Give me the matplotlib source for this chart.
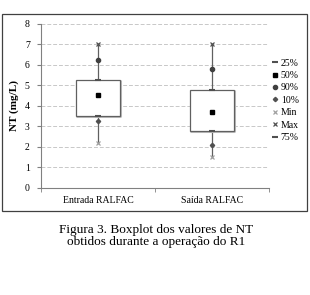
import matplotlib.pyplot as plt
from matplotlib.patches import Rectangle
from matplotlib.lines import Line2D

plt.rcParams['font.family'] = ['Liberation Serif', 'DejaVu Serif']

categories = ['Entrada RALFAC', 'Saída RALFAC']
p_min = [2.2, 1.5]
p10 = [3.25, 2.07]
p25 = [3.52, 2.8]
p50 = [4.55, 3.7]
p75 = [5.25, 4.8]
p90 = [6.25, 5.8]
p_max = [7.0, 7.0]
yticks = [0, 1, 2, 3, 4, 5, 6, 7, 8]

fig = plt.figure(figsize=(3.1, 2.95), dpi=100)

# outer chart frame
fig.patches.append(Rectangle((0.007, 0.285), 0.984, 0.668, transform=fig.transFigure,
                             fill=False, edgecolor='#404040', linewidth=0.9))

ax = fig.add_axes([0.132, 0.363, 0.736, 0.556])
pos = [0.5, 1.5]
w = 0.39

for y in yticks[1:]:
    ax.axhline(y, color='#c8c8c8', linestyle=(0, (4, 2)), linewidth=0.7, zorder=0)

for i, x in enumerate(pos):
    ax.plot([x, x], [p_min[i], p_max[i]], color='#606060', linewidth=0.9, zorder=1)
    # shadow on right/bottom
    ax.plot([x + w / 2, x + w / 2, x - w / 2], [p75[i], p25[i], p25[i]],
            color='#bdbdbd', linewidth=2.2, zorder=2, solid_capstyle='butt')
    ax.add_patch(Rectangle((x - w / 2, p25[i]), w, p75[i] - p25[i], facecolor='white',
                           edgecolor='#606060', linewidth=0.9, zorder=3))
    ax.plot(x, p25[i], marker='_', color='#505050', markersize=4.5, mew=1.5, zorder=4)
    ax.plot(x, p75[i], marker='_', color='#505050', markersize=4.5, mew=1.5, zorder=4)
    ax.plot(x, p50[i], marker='s', color='black', markersize=3, zorder=4)
    ax.plot(x, p90[i], marker='o', color='#404040', markersize=3, zorder=4)
    ax.plot(x, p10[i], marker='D', color='#505050', markersize=2.2, zorder=4)
    ax.plot(x, p_min[i], marker='x', color='#a0a0a0', markersize=2.6, mew=0.9, zorder=4)
    ax.plot(x, p_max[i], marker='x', color='#505050', markersize=2.6, mew=0.9, zorder=4)

ax.set_xlim(0, 2)
ax.set_ylim(0, 8)
ax.set_yticks(yticks)
ax.set_yticklabels([str(v) for v in yticks], fontsize=7)
ax.set_xticks(pos)
ax.set_xticklabels(categories, fontsize=7)
ax.set_xticks([0, 1, 2], minor=True)
ax.tick_params(axis='x', which='major', length=0, pad=6)
ax.tick_params(axis='x', which='minor', length=3, direction='out', color='#808080')
ax.tick_params(axis='y', length=3, direction='out', color='#808080', pad=5)
for s in ['top', 'right']:
    ax.spines[s].set_visible(False)
for s in ['left', 'bottom']:
    ax.spines[s].set_color('#808080')
    ax.spines[s].set_linewidth(0.8)
ax.set_ylabel('NT (mg/L)', fontsize=8, fontweight='bold', labelpad=4)

handles = [
    Line2D([], [], marker='_', color='#505050', linestyle='none', markersize=4, mew=1.5),
    Line2D([], [], marker='s', color='black', linestyle='none', markersize=3),
    Line2D([], [], marker='o', color='#404040', linestyle='none', markersize=3),
    Line2D([], [], marker='D', color='#505050', linestyle='none', markersize=2.2),
    Line2D([], [], marker='x', color='#a0a0a0', linestyle='none', markersize=2.6, mew=0.9),
    Line2D([], [], marker='x', color='#505050', linestyle='none', markersize=2.6, mew=0.9),
    Line2D([], [], marker='_', color='#505050', linestyle='none', markersize=4, mew=1.5),
]
labels = ['25%', '50%', '90%', '10%', 'Min', 'Max', '75%']
fig.legend(handles, labels, loc='center left', bbox_to_anchor=(0.865, 0.66),
           frameon=False, fontsize=7, handlelength=0.6, handletextpad=0.3,
           labelspacing=0.35, borderaxespad=0)

fig.text(0.503, 0.22, 'Figura 3. Boxplot dos valores de NT', ha='center', va='center', fontsize=9.5)
fig.text(0.503, 0.178, 'obtidos durante a operação do R1', ha='center', va='center', fontsize=9.5)

fig.savefig('out.png', dpi=100)
